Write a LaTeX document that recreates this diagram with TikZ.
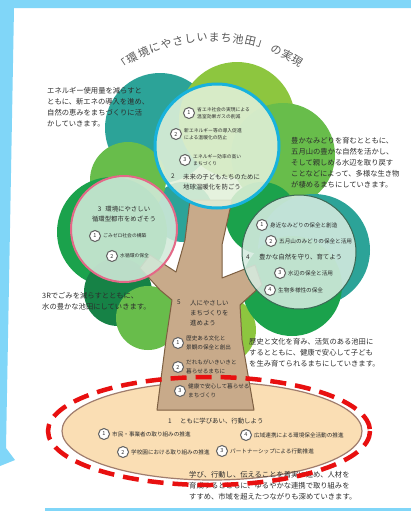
\documentclass[tikz,border=0pt]{standalone}
\usepackage{fontspec}
\setmainfont{Noto Sans CJK JP}
\usetikzlibrary{positioning}

\definecolor{framebl}{RGB}{128,214,248}
\definecolor{teal1}{RGB}{44,163,152}
\definecolor{leaf1}{RGB}{141,198,63}
\definecolor{leaf2}{RGB}{104,189,75}
\definecolor{leaf3}{RGB}{27,162,76}
\definecolor{leaf4}{RGB}{22,130,70}
\definecolor{paleC}{RGB}{226,241,218}
\definecolor{paleL}{RGB}{210,234,218}
\definecolor{paleR}{RGB}{214,235,224}
\definecolor{rimC}{RGB}{24,178,220}
\definecolor{rimL}{RGB}{228,104,135}
\definecolor{rimR}{RGB}{60,105,85}
\definecolor{bark}{RGB}{200,170,138}
\definecolor{barkline}{RGB}{125,95,65}
\definecolor{ground}{RGB}{250,222,180}
\definecolor{groundline}{RGB}{160,125,110}
\definecolor{alarm}{RGB}{232,16,16}
\definecolor{txt}{RGB}{45,45,45}

\tikzset{
  numcirc/.style={circle, draw=gray!75!black, line width=1pt, fill=white,
    minimum size=11pt, inner sep=0pt, text=txt, font=\fontsize{5.5}{5.5}\selectfont},
  itemtext/.style={inner sep=0pt, align=left, text=txt, font=\fontsize{4.8}{7.5}\selectfont},
  bigitem/.style={itemtext, font=\fontsize{5.6}{8.5}\selectfont},
  headtext/.style={inner sep=0pt, align=left, text=txt, font=\fontsize{6.4}{10}\selectfont},
  notetext/.style={inner sep=0pt, align=left, text=txt, font=\fontsize{7.3}{11}\selectfont},
  titlechar/.style={inner sep=0pt, text=txt!80, font=\fontsize{11}{11}\selectfont},
  bubble/.style={fill opacity=0.88, line width=#1},
}

\begin{document}
\begin{tikzpicture}[x=1pt, y=-1pt]
\useasboundingbox (0,0) rectangle (411,512);
\fill[white] (0,0) rectangle (411,512);

% page frame
\fill[framebl] (0,0) -- (411,0) -- (411,8) -- (14,8) -- (6,448) -- (15,460) -- (0,466) -- cycle;
\draw[framebl, line width=3pt] (45,509) -- (411,509);

% title along an arc
\foreach \c [count=\i] in {「,環,境,に,や,さ,し,い,ま,ち,池,田,」,の,実,現} {
  \pgfmathsetmacro\a{124-(\i-1)*4.3-(\i>13)*1}
  \node[titlechar, rotate=\a-90] (t\i) at ({213+162*cos(\a)},{199-162*sin(\a)}) {\c};
}

% leaves behind the bubbles
\fill[teal1] (160,128) circle (55);
\fill[teal1] (183,212) circle (30);
\fill[leaf1] (237,120) circle (58);
\fill[leaf2] (283,155) circle (52);
\fill[leaf3] (262,218) circle (36);
\fill[leaf2] (128,180) circle (38);
\fill[leaf3] (112,232) circle (55);
\fill[leaf4] (118,292) circle (34);
\fill[leaf2] (148,318) circle (32);
\fill[leaf1] (222,330) circle (34);
\fill[teal1] (314,250) circle (56);
\fill[leaf3] (292,286) circle (50);

% ground
\draw[groundline, fill=ground, line width=1.2pt] (212,431) ellipse [x radius=150, y radius=49];

% trunk
\draw[barkline, fill=bark, line width=1pt, line join=round]
  (157,410) -- (166,340) -- (172,300) -- (160,290) -- (140,268) -- (150,255)
  -- (176,272) -- (185,240) -- (190,200) -- (232,200) -- (222,245) -- (222,278)
  -- (255,265) -- (262,285) -- (240,305) -- (242,340) -- (254,410) -- cycle;

% bubbles
\draw[bubble=3pt, draw=rimC, fill=paleC] (217,146) circle (62);
\draw[bubble=2pt, draw=rimL, fill=paleL] (124,229) circle (53);
\draw[bubble=1pt, draw=rimR, fill=paleR] (299,252) circle (57);

% notes
\node[notetext, anchor=north west] (noteA) at (47,87) {エネルギー使用量を減らすと\\ともに、新エネの導入を進め、\\自然の恵みをまちづくりに活\\かしていきます。};
\node[notetext, anchor=north west] (noteB) at (291,137) {豊かなみどりを育むとともに、\\五月山の豊かな自然を活かし、\\そして親しめる水辺を取り戻す\\ことなどによって、多様な生き物\\が棲めるまちにしていきます。};
\node[notetext, anchor=north west] (noteC) at (42,292) {3Rでごみを減らすとともに、\\水の豊かな池田にしていきます。};
\node[notetext, anchor=north west] (noteD) at (249,338) {歴史と文化を育み、活気のある池田に\\するとともに、健康で安心して子ども\\を生み育てられるまちにしていきます。};
\node[notetext, anchor=north west] (noteE) at (189,471) {学び、行動し、伝えることを着実に進め、人材を\\育成するとともに、ゆるやかな連携で取り組みを\\すすめ、市域を超えたつながりも深めていきます。};

% 2 center bubble
\node[numcirc] (c1) at (189,113) {1};
\node[itemtext, right=2pt of c1] (c1t) {省エネ社会の実現による\\温室効果ガスの削減};
\node[numcirc] (c2) at (176,134) {2};
\node[itemtext, right=2pt of c2] (c2t) {新エネルギー等の導入促進\\による温暖化の防止};
\node[numcirc] (c3) at (185,160) {3};
\node[itemtext, right=2pt of c3] (c3t) {エネルギー効率の高い\\まちづくり};
\node[headtext, anchor=north west] (cn) at (171,174) {2};
\node[headtext, anchor=north west] (ch) at (183,174) {未来の子どもたちのために\\地球温暖化を防ごう};

% 3 left bubble
\node[headtext, align=center, anchor=north] (lh) at (124,206) {3\hspace{4pt}環境にやさしい\\循環型都市をめざそう};
\node[numcirc] (l1) at (95,236) {1};
\node[itemtext, right=2pt of l1] (l1t) {ごみゼロ社会の構築};
\node[numcirc] (l2) at (112,256) {2};
\node[itemtext, right=2pt of l2] (l2t) {水循環の保全};

% 4 right bubble
\node[numcirc] (r1) at (262,225) {1};
\node[bigitem, right=2pt of r1] (r1t) {身近なみどりの保全と創造};
\node[numcirc] (r2) at (271,241) {2};
\node[bigitem, right=2pt of r2] (r2t) {五月山のみどりの保全と活用};
\node[headtext, anchor=west] (rn) at (246,257) {4};
\node[headtext, anchor=west] (rh) at (259,257) {豊かな自然を守り、育てよう};
\node[numcirc] (r3) at (280,273) {3};
\node[bigitem, right=2pt of r3] (r3t) {水辺の保全と活用};
\node[numcirc] (r4) at (270,290) {4};
\node[bigitem, right=2pt of r4] (r4t) {生物多様性の保全};

% 5 trunk
\node[headtext, anchor=north west] (tn) at (177,300) {5};
\node[headtext, anchor=north west] (th) at (190,300) {人にやさしい\\まちづくりを\\進めよう};
\node[numcirc] (k1) at (178,343) {1};
\node[bigitem, right=2pt of k1] (k1t) {歴史ある文化と\\景観の保全と創出};
\node[numcirc] (k2) at (178,367) {2};
\node[bigitem, right=2pt of k2] (k2t) {だれもがいきいきと\\暮らせるまちに};
\node[numcirc] (k3) at (180,391) {3};
\node[bigitem, right=2pt of k3] (k3t) {健康で安心して暮らせる\\まちづくり};

% 1 ground
\node[headtext, anchor=west] (gn) at (168,421) {1};
\node[headtext, anchor=west] (gh) at (180,421) {ともに学びあい、行動しよう};
\node[numcirc] (g1) at (104,434) {1};
\node[bigitem, right=2pt of g1] (g1t) {市民・事業者の取り組みの推進};
\node[numcirc] (g2) at (123,452) {2};
\node[bigitem, right=2pt of g2] (g2t) {学校園における取り組みの推進};
\node[numcirc] (g3) at (222,451) {3};
\node[bigitem, right=2pt of g3] (g3t) {パートナーシップによる行動推進};
\node[numcirc] (g4) at (246,435) {4};
\node[bigitem, right=2pt of g4] (g4t) {広域連携による環境保全活動の推進};

% marking round the ground
\draw[alarm, line width=4.5pt, dash pattern=on 16pt off 9pt] (209,431) ellipse [x radius=161, y radius=54];
\end{tikzpicture}
\end{document}
